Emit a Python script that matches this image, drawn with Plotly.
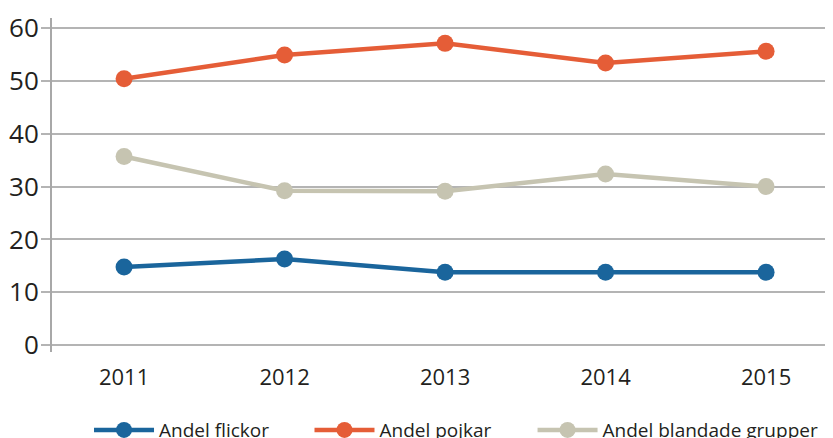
import plotly.graph_objects as go

years = [2011, 2012, 2013, 2014, 2015]
andel_flickor = [14.8, 16.3, 13.8, 13.8, 13.8]
andel_pojkar = [50.4, 54.9, 57.1, 53.4, 55.6]
andel_blandade = [35.7, 29.2, 29.1, 32.4, 30.0]
series_names = ["Andel flickor", "Andel pojkar", "Andel blandade grupper"]
colors = ["#1a659c", "#e55d37", "#c6c4b1"]
y_ticks = [0, 10, 20, 30, 40, 50, 60]

legend_ids = ["legend", "legend2", "legend3"]
legend_x = [0.0474, 0.3297, 0.6153]

fig = go.Figure()
for name, vals, col, lid in zip(series_names, [andel_flickor, andel_pojkar, andel_blandade], colors, legend_ids):
    fig.add_trace(go.Scatter(
        x=years, y=vals, name=name, mode="lines+markers",
        line=dict(color=col, width=4.5),
        marker=dict(color=col, size=17),
        legend=lid,
    ))

legend_common = dict(
    orientation="h", xanchor="left", y=-0.177, yanchor="top",
    font=dict(size=19, color="#231f20"), itemwidth=60,
    bgcolor="rgba(0,0,0,0)",
)
layout_legends = {lid: dict(x=lx, **legend_common) for lid, lx in zip(legend_ids, legend_x)}

fig.update_layout(
    width=825, height=430,
    margin=dict(l=44, r=0, t=10, b=86, autoexpand=False),
    paper_bgcolor="white", plot_bgcolor="white",
    font=dict(family="Open Sans, sans-serif", color="#231f20"),
    showlegend=True,
    **layout_legends,
)
fig.update_xaxes(
    range=[2010.551, 2015.417], tickvals=years, ticktext=[str(y) for y in years],
    showgrid=False, zeroline=False, showline=False, ticks="",
    tickfont=dict(size=22), ticklabelstandoff=10,
)
fig.update_yaxes(
    range=[-1.3, 61.9], tickvals=y_ticks,
    showgrid=True, gridcolor="#b4b4b4", gridwidth=1.5,
    zeroline=False, showline=True, linecolor="#a8a8a8", linewidth=2,
    ticks="outside", ticklen=9, tickcolor="#b4b4b4", tickwidth=1.5,
    tickfont=dict(size=26), ticklabelstandoff=-3,
)
fig.write_html("out.html")
